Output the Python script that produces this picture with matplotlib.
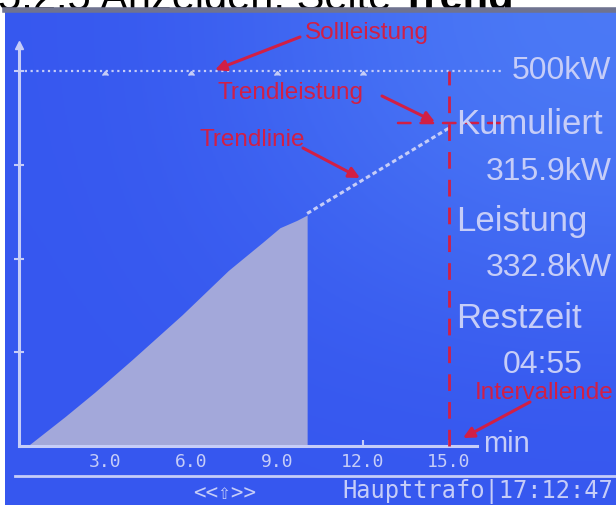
#!/usr/bin/env python3
import numpy as np
import matplotlib
import matplotlib.pyplot as plt

matplotlib.use('Agg')

# data (time in min, power in kW)
fill_t = [0.3, 1.6, 2.65, 3.94, 5.69, 7.3, 8.51, 9.10, 9.70, 10.05]
fill_kw = [0, 39, 72, 115, 175, 234, 272, 291, 301, 308]
trend_t = [10.05, 15.0]
trend_kw = [310, 424]
setpoint_kw = 500
interval_end = 15.0
x_ticks = [3.0, 6.0, 9.0, 12.0, 15.0]
x_labels = ['3.0', '6.0', '9.0', '12.0', '15.0']
y_ticks = [125, 250, 375, 500]

W, H = 616, 505
BLUE_DARK = '#3657ef'
BLUE_LIGHT = '#4d7cf6'
LCD = '#c6cdf8'
FILL = '#a3a8da'
RED = '#d11f45'
LCD_FONT = ['Liberation Sans', 'DejaVu Sans']
MONO = ['DejaVu Sans Mono', 'DejaVu Sans']
NOTE_FONT = ['Liberation Sans', 'DejaVu Sans']


def fpos(x, y):
    # pixel position (from top-left) to figure fraction
    return x / W, 1 - y / H


def px(x, y):
    return x, H - y


fig = plt.figure(figsize=(W / 100, H / 100), dpi=100)
fig.patch.set_facecolor('white')

# page heading, mostly cut off by the photo
head = fig.text(*fpos(-2, 10), '5.2.5 Anzeigen, Seite', fontsize=30,
                family=LCD_FONT, va='baseline', ha='left', color='black')
bb = head.get_window_extent(renderer=fig.canvas.get_renderer())
fig.text((bb.x1 + 9) / W, 1 - 10 / H, 'Trend', fontsize=30, weight='bold',
         family=LCD_FONT, va='baseline', ha='left', color='black')

ax = fig.add_axes([5 / W, 0, 1 - 5 / W, 1 - 10 / H])
ax.set_zorder(5)

# pixel mapping of the display: t=0 at x=19px, 28.67 px/min; 0 kW at y=446px, 0.75 px/kW
xlim = ((5 - 19) / 28.67, (616 - 19) / 28.67)
ylim = ((446 - 505) / 0.75, (446 - 10) / 0.75)

grad = np.array([[matplotlib.colors.to_rgb(BLUE_DARK), matplotlib.colors.to_rgb(BLUE_LIGHT)],
                 [matplotlib.colors.to_rgb(BLUE_DARK), matplotlib.colors.to_rgb(BLUE_DARK)]])
ax.imshow(grad, extent=(xlim[0], xlim[1], ylim[0], ylim[1]), aspect='auto',
          interpolation='bicubic', zorder=0)
ax.set_xlim(*xlim)
ax.set_ylim(*ylim)

# measured energy as filled area
ax.fill_between(fill_t, fill_kw, 0, color=FILL, linewidth=0, zorder=2)
# trend line
ax.plot(trend_t, trend_kw, color=LCD, linestyle=(0, (1.5, 1)), linewidth=2.2, zorder=3)
# setpoint line
ax.plot([0, 16.8], [setpoint_kw, setpoint_kw], color=LCD, linestyle=(0, (1, 1.6)),
        linewidth=1.6, zorder=3)
ax.plot([3, 6, 9, 12], [setpoint_kw] * 4, linestyle='none', marker=6, markersize=4,
        color=LCD, zorder=3)

# axes of the display
ax.spines['right'].set_visible(False)
ax.spines['top'].set_color('#6f7390')
ax.spines['top'].set_linewidth(4)
ax.spines['left'].set_position(('data', 0))
ax.spines['left'].set_bounds(0, 535)
ax.spines['bottom'].set_position(('data', 0))
ax.spines['bottom'].set_bounds(0, 15.98)
for s in ['left', 'bottom']:
    ax.spines[s].set_color(LCD)
    ax.spines[s].set_linewidth(2.2)
    ax.spines[s].set_zorder(4)
ax.plot([0], [535], marker='^', markersize=6, color=LCD, zorder=4, clip_on=False)

ax.set_xticks(x_ticks)
ax.set_xticklabels(x_labels, family=MONO, fontsize=13, color=LCD)
ax.set_yticks(y_ticks)
ax.set_yticklabels([])
ax.tick_params(axis='x', direction='in', length=4, width=1.5, color=LCD, pad=5)
ax.tick_params(axis='y', direction='inout', length=7, width=1.5, color=LCD)

# separator above the status bar
ax.axhline(-40, xmin=10 / 611, xmax=1, color=LCD, linewidth=2, zorder=4)

# interval end marker
ax.plot([interval_end, interval_end], [0, setpoint_kw], color=RED,
        linestyle=(0, (6, 4)), linewidth=2, zorder=6)

# right hand readouts
lcd_txt = dict(color=LCD, family=LCD_FONT, va='center', zorder=10)
fig.text(*fpos(611, 71), '500kW', fontsize=23, ha='right', **lcd_txt)
fig.text(*fpos(456, 124), 'Kumuliert', fontsize=25, ha='left', **lcd_txt)
fig.text(*fpos(612, 172), '315.9kW', fontsize=23, ha='right', **lcd_txt)
fig.text(*fpos(456, 221), 'Leistung', fontsize=25, ha='left', **lcd_txt)
fig.text(*fpos(612, 268), '332.8kW', fontsize=23, ha='right', **lcd_txt)
fig.text(*fpos(456, 319), 'Restzeit', fontsize=25, ha='left', **lcd_txt)
fig.text(*fpos(543, 365), '04:55', fontsize=23, ha='center', **lcd_txt)
fig.text(*fpos(483, 444), 'min', fontsize=21, ha='left', **lcd_txt)

# status bar
fig.text(*fpos(225, 493), '<<\u21e7>>', fontsize=15, family=MONO, color=LCD,
         ha='center', va='center', zorder=10)
fig.text(*fpos(613, 492), 'Haupttrafo|17:12:47', fontsize=17, family=MONO,
         color=LCD, ha='right', va='center', zorder=10)

# red annotations
note = dict(color=RED, family=NOTE_FONT, fontsize=17.5, va='center', zorder=10)
arrow = dict(arrowstyle='-|>', color=RED, lw=2.2, mutation_scale=16, shrinkA=0, shrinkB=0)

fig.text(*fpos(305, 33), 'Sollleistung', ha='left', **note)
ax.annotate('', xy=px(215, 70), xytext=px(300, 37), xycoords='figure pixels',
            textcoords='figure pixels', arrowprops=arrow, zorder=10)
fig.text(*fpos(218, 93), 'Trendleistung', ha='left', **note)
ax.annotate('', xy=px(435, 122), xytext=px(382, 96), xycoords='figure pixels',
            textcoords='figure pixels', arrowprops=arrow, zorder=10)
ax.annotate('', xy=px(500, 123), xytext=px(398, 123), xycoords='figure pixels',
            textcoords='figure pixels', zorder=10,
            arrowprops=dict(arrowstyle='-', color=RED, lw=1.8, linestyle=(0, (5, 4)),
                            shrinkA=0, shrinkB=0))
fig.text(*fpos(200, 140), 'Trendlinie', ha='left', **note)
ax.annotate('', xy=px(360, 178), xytext=px(303, 148), xycoords='figure pixels',
            textcoords='figure pixels', arrowprops=arrow, zorder=10)
fig.text(*fpos(475, 393), 'Intervallende', ha='left', **note)
ax.annotate('', xy=px(463, 438), xytext=px(530, 402), xycoords='figure pixels',
            textcoords='figure pixels', arrowprops=arrow, zorder=10)

fig.savefig('out.png', dpi=100)
